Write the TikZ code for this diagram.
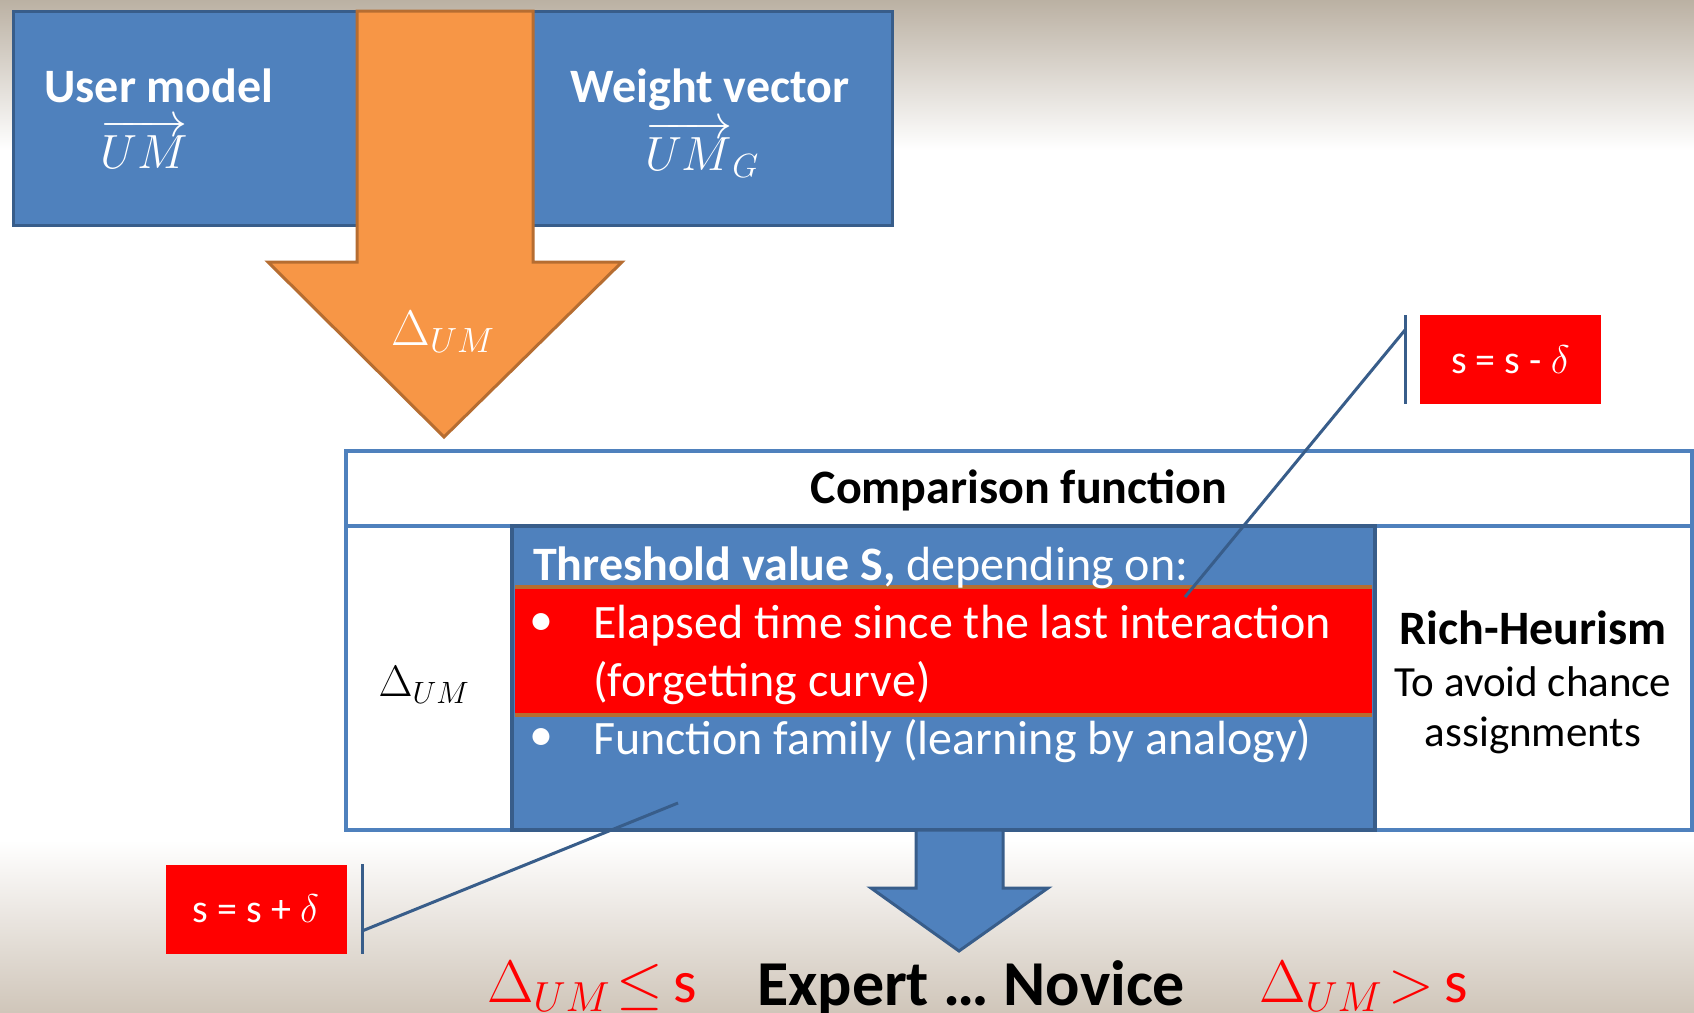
\RequirePackage{fix-cm}
\documentclass[tikz,border=0pt]{standalone}
\usepackage{fontspec}
\setmainfont{Carlito}
\definecolor{bfill}{RGB}{79,129,189}
\definecolor{bdark}{RGB}{56,93,138}
\definecolor{ofill}{RGB}{247,150,70}
\definecolor{odark}{RGB}{182,109,49}
\definecolor{bgtop}{RGB}{187,177,163}
\definecolor{bgbot}{RGB}{208,198,186}
\begin{document}
\begin{tikzpicture}[x=1pt,y=-1pt,
  every node/.style={inner sep=0pt, outer sep=0pt},
  boxtitle/.style={text=white, font=\bfseries\fontsize{48}{54}\selectfont},
  vecmath/.style={text=white, font=\fontsize{48}{54}\selectfont},
  celltext/.style={font=\fontsize{48}{56}\selectfont},
  sidetext/.style={font=\fontsize{43}{50}\selectfont},
  headtext/.style={font=\bfseries\fontsize{48}{56}\selectfont},
  bluebox/.style={fill=bfill, draw=bdark, line width=3pt},
  redbox/.style={fill=red, text=white, font=\fontsize{40}{48}\selectfont, minimum width=181pt, minimum height=89pt},
  callout/.style={draw=bdark, line width=3pt},
  bigarrow/.style={line width=3pt, line join=miter},
  bottomtext/.style={font=\fontsize{60}{66}\selectfont}
]
\useasboundingbox (0,0) rectangle (1694,1012);
% background
\fill[white] (0,0) rectangle (1694,1012);
\shade[top color=bgtop, bottom color=white] (0,0) rectangle (1694,150);
\shade[top color=white, bottom color=bgbot] (0,840) rectangle (1694,1012);

% top boxes
\node[bluebox, anchor=north west, minimum width=447pt, minimum height=214pt] (um) at (13,11) {};
\node[bluebox, anchor=north west, minimum width=452pt, minimum height=214pt] (wv) at (440,11) {};
\node[boxtitle, anchor=base] (umt) at (159,102) {User model};
\node[vecmath, anchor=base] (umv) at (144,168) {$\overrightarrow{UM}$};
\node[boxtitle, anchor=base] (wvt) at (710,102) {Weight vector};
\node[vecmath, anchor=base] (wvv) at (702,170) {$\overrightarrow{UM}_{G}$};

% orange arrow
\draw[bigarrow, fill=ofill, draw=odark] (357,11) -- (533,11) -- (533,262) -- (622,262) -- (444,437) -- (268,262) -- (357,262) -- cycle;
\node[text=white, font=\fontsize{50}{56}\selectfont] (dum) at (443,332) {$\Delta_{UM}$};

% table
\node[draw=bfill, fill=white, line width=3.5pt, anchor=north west, minimum width=1346pt, minimum height=379pt] (tbl) at (346,451) {};
\draw[bfill, line width=3.5pt] (346,526) -- (1692,526);
\node[headtext] (cmp) at (1019,490) {Comparison function};
\node[font=\fontsize{44}{50}\selectfont] (dleft) at (424,685) {$\Delta_{UM}$};

% threshold cell
\node[bluebox, line width=4pt, anchor=north west, minimum width=863pt, minimum height=304pt] (thrcell) at (512,526) {};
\fill[red] (515,587) rectangle (1372,715);
\draw[odark, line width=4pt] (515,587) -- (1372,587);
\draw[odark, line width=4pt] (515,715) -- (1372,715);
\node[celltext, text=white, anchor=west] (thr) at (533,568) {\textbf{Threshold value S,} depending on:};
\node[celltext, text=white] (b1) at (541,625) {\textbullet};
\node[celltext, text=white, anchor=west] (l1) at (593,626) {Elapsed time since the last interaction};
\node[celltext, text=white, anchor=west] (l2) at (593,683) {(forgetting curve)};
\node[celltext, text=white] (b2) at (541,740) {\textbullet};
\node[celltext, text=white, anchor=west] (l3) at (593,741) {Function family (learning by analogy)};

% right column
\node[headtext] (rh) at (1533,628) {Rich-Heurism};
\node[sidetext] (rh2) at (1533,682) {To avoid chance};
\node[sidetext] (rh3) at (1533,735) {assignments};

% callouts
\node[redbox] (sminus) at (1510.5,359.5) {s = s - $\delta$};
\coordinate (barA1) at (1405,315);
\coordinate (barA2) at (1405,404);
\coordinate (ptA) at (1185,597);
\coordinate (jA) at (1405,330);
\draw[callout] (barA1) -- (barA2);
\draw[callout] (ptA) -- (jA);

\node[redbox] (splus) at (256,909) {s = s + $\delta$};
\coordinate (barB1) at (362,864);
\coordinate (barB2) at (362,954);
\coordinate (ptB) at (678,803);
\coordinate (jB) at (362,931);
\draw[callout] (barB1) -- (barB2);
\draw[callout] (ptB) -- (jB);

% blue arrow
\draw[bigarrow, fill=bfill, draw=bdark] (916,830) -- (1003,830) -- (1003,888) -- (1048,888) -- (959,951) -- (871,888) -- (916,888) -- cycle;

% bottom texts
\node[bottomtext, text=red, anchor=base west] (le) at (487,1002) {$\Delta_{UM}\!\leq$\,s};
\node[bottomtext, font=\bfseries\fontsize{64}{68}\selectfont, anchor=base] (en) at (971,1005) {Expert … Novice};
\node[bottomtext, text=red, anchor=base west] (gt) at (1259,1002) {$\Delta_{UM}\!>$\,s};
\end{tikzpicture}
\end{document}
